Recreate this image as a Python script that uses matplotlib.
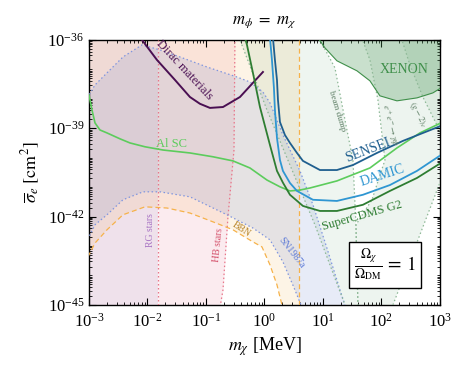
import numpy as np
import matplotlib.pyplot as plt
from matplotlib.ticker import LogLocator, FixedLocator, NullFormatter

plt.rcParams['font.family'] = 'serif'
plt.rcParams['font.serif'] = ['Liberation Serif', 'DejaVu Serif']
plt.rcParams['mathtext.fontset'] = 'stix'

# all values as log10(m_chi / MeV) and log10(sigma_e / cm^2)
dirac_m = [-2.2, -2.094, -1.838, -1.530, -1.274, -1.103, -0.932, -0.709, -0.419, -0.026]
dirac_s = [-35.72, -36.0, -36.68, -37.36, -37.94, -38.17, -38.31, -38.28, -37.94, -37.09]

alsc_m = [-3.0, -2.949, -2.897, -2.812, -2.692, -2.470, -2.299, -2.043, -1.735, -1.274, -0.880,
          -0.538, -0.248, 0.043, 0.265, 0.436, 0.607, 0.778, 1.239, 1.803, 2.265, 2.658, 3.017]
alsc_s = [-37.87, -38.38, -38.82, -39.06, -39.16, -39.36, -39.50, -39.63, -39.74, -39.84, -39.97,
          -40.11, -40.35, -40.76, -40.99, -41.13, -41.10, -41.03, -40.79, -40.35, -39.67, -39.16, -38.82]

sensei_m = [0.145, 0.179, 0.214, 0.231, 0.265, 0.350, 0.436, 0.556, 0.658, 0.949, 1.239, 1.513, 1.923, 2.368, 3.017]
sensei_s = [-35.93, -36.68, -37.36, -38.04, -38.79, -39.23, -39.50, -39.84, -40.11, -40.42, -40.42, -40.25, -39.84, -39.43, -38.92]

damic_m = [0.094, 0.128, 0.162, 0.179, 0.214, 0.265, 0.316, 0.436, 0.556, 0.829, 1.239, 1.684, 2.145, 2.607, 3.017]
damic_s = [-35.93, -36.68, -37.63, -38.38, -39.33, -40.08, -40.45, -40.86, -41.13, -41.43, -41.47, -41.26, -40.93, -40.45, -39.91]

cdms_m = [-0.333, -0.299, -0.197, -0.077, 0.094, 0.214, 0.316, 0.436, 0.658, 0.949, 1.239, 1.684, 2.145, 2.607, 3.017]
cdms_s = [-35.93, -36.17, -37.12, -38.28, -39.57, -40.45, -40.85, -41.26, -41.64, -41.81, -41.81, -41.60, -41.13, -40.69, -40.18]

xenon_m = [0.88, 0.915, 1.034, 1.239, 1.581, 1.803, 1.974, 2.265, 2.607, 2.880, 3.017, 3.1]
xenon_s = [-35.8, -35.93, -36.27, -36.71, -37.05, -37.39, -37.90, -38.07, -37.97, -37.80, -37.63, -37.55]

rg_edge = -1.82
hb_m = [-0.504, -0.521, -0.624, -0.709, -0.761]
hb_s = [-35.8, -39.74, -42.01, -44.49, -45.1]

bbn_edge = 0.59
bbn_m = [-3.1, -3.0, -2.897, -2.692, -2.419, -2.043, -1.667, -1.274, -0.880, -0.538, -0.197, -0.043, 0.094, 0.214, 0.299]
bbn_s = [-43.6, -43.30, -42.90, -42.45, -41.94, -41.67, -41.71, -41.88, -42.18, -42.45, -42.86, -43.03, -43.64, -44.32, -45.0]

sn_up_m = [-3.1, -3.0, -2.897, -2.692, -2.419, -2.094, -1.786, -1.444, -0.983, -0.470, -0.248, -0.026,
           0.094, 0.316, 0.607, 0.829, 1.068, 1.291, 1.376]
sn_up_s = [-38.2, -37.87, -37.53, -37.12, -36.58, -36.17, -36.34, -36.58, -36.92, -37.26, -37.43, -37.77,
           -38.14, -39.23, -40.45, -41.60, -43.07, -44.49, -45.0]
sn_lo_m = [-3.1, -3.0, -2.897, -2.692, -2.419, -2.077, -1.786, -1.274, -0.641, -0.197, 0.094, 0.316, 0.521, 0.624]
sn_lo_s = [-43.0, -42.69, -42.28, -41.94, -41.43, -41.16, -41.16, -41.33, -41.94, -42.39, -42.79, -43.54, -44.49, -45.0]

bd_up_m = [-0.48, -0.419, 0.043, 0.436, 0.863, 1.376]
bd_up_s = [-35.8, -36.0, -38.38, -40.25, -42.28, -45.0]
bd_lo_m = [0.92, 0.949, 1.205, 1.410, 1.513, 1.564, 1.598]
bd_lo_s = [-35.8, -36.0, -36.95, -39.06, -40.08, -42.28, -45.0]

ee_left_m = [1.64, 1.803, 1.940, 2.060, 1.838, 1.564, 1.598]
ee_left_s = [-35.8, -36.68, -38.04, -40.08, -41.43, -42.28, -45.0]
ee_right_m = [2.197, 3.017, 3.1]
ee_right_s = [-45.0, -40.76, -40.5]

g2_m = [2.33, 2.350, 2.487, 2.709, 2.966, 3.1]
g2_s = [-35.8, -36.0, -36.85, -37.94, -38.96, -39.4]

fig = plt.figure(figsize=(4.54, 3.66), dpi=100)
ax = fig.add_axes([0.196, 0.167, 0.773, 0.724])
ax.set_xscale('log')
ax.set_yscale('log')

def p(a):
    return 10 ** np.asarray(a, dtype=float)

top, bot, left, right = -35.8, -45.1, -3.1, 3.1
dot = (0, (1.2, 2.0))
dash = (0, (4, 2.5))

# stellar bounds
ax.axvspan(p(left), p(rg_edge), color='#b06a9e', alpha=0.2, lw=0, zorder=1)
ax.fill_betweenx(p(hb_s), p(rg_edge), p(hb_m), color='#e87a96', alpha=0.15, lw=0, zorder=1)
ax.axvline(p(rg_edge), color='#e8768a', ls=dot, lw=0.9, zorder=3)
ax.plot(p(hb_m), p(hb_s), color='#e8768a', ls=dot, lw=0.9, zorder=3)

# BBN
bx = bbn_m + [bbn_edge, bbn_edge, left]
by = bbn_s + [bot, top, top]
ax.fill(p(bx), p(by), color='#f7b85a', alpha=0.15, lw=0, zorder=1)
ax.plot(p(bbn_m), p(bbn_s), color='#f6b24a', ls=dash, lw=0.9, zorder=3)
ax.axvline(p(bbn_edge), color='#f6b24a', ls=dash, lw=0.9, zorder=3)

# SN1987a
sx = sn_up_m + sn_lo_m[::-1]
sy = sn_up_s + sn_lo_s[::-1]
ax.fill(p(sx), p(sy), color='#7d93d6', alpha=0.18, lw=0, zorder=1)
ax.plot(p(sn_up_m), p(sn_up_s), color='#7f95df', ls=dot, lw=0.9, zorder=3)
ax.plot(p(sn_lo_m), p(sn_lo_s), color='#7f95df', ls=dot, lw=0.9, zorder=3)

# beam dump, e+e- -> gamma phi, (g-2)_e
gcol = '#5f9e6e'
gline = '#8db896'
ax.fill(p(bd_up_m + bd_lo_m[::-1]), p(bd_up_s + bd_lo_s[::-1]), color=gcol, alpha=0.1, lw=0, zorder=1)
ax.fill(p(ee_left_m + ee_right_m + [right]), p(ee_left_s + ee_right_s + [top]), color=gcol, alpha=0.11, lw=0, zorder=1)
ax.fill(p(g2_m + [right]), p(g2_s + [top]), color=gcol, alpha=0.1, lw=0, zorder=1)
for xm, ys in [(bd_up_m, bd_up_s), (bd_lo_m, bd_lo_s), (ee_left_m, ee_left_s),
               (ee_right_m, ee_right_s), (g2_m, g2_s)]:
    ax.plot(p(xm), p(ys), color=gline, ls=dot, lw=0.9, zorder=3)

# XENON
ax.fill(p(xenon_m + [right]), p(xenon_s + [top]), color='#4f9a5a', alpha=0.3, lw=0, zorder=2)
ax.plot(p(xenon_m), p(xenon_s), color='#3f8f4a', lw=0.8, zorder=3)

# experimental reaches
ax.plot(p(dirac_m), p(dirac_s), color='#4a0f52', lw=1.4, zorder=5)
ax.plot(p(alsc_m), p(alsc_s), color='#5ccc5c', lw=1.2, zorder=5)
ax.plot(p(cdms_m), p(cdms_s), color='#2e7d32', lw=1.3, zorder=5)
ax.plot(p(damic_m), p(damic_s), color='#2f96d2', lw=1.3, zorder=5)
ax.plot(p(sensei_m), p(sensei_s), color='#1f5f8f', lw=1.3, zorder=5)

labels = [
    ('Dirac materials', -1.36, -37.03, -47, '#4a0f52', 9),
    ('Al SC', -1.581, -39.53, 0, '#5ccc5c', 9),
    ('XENON', 2.385, -37.02, 0, '#3f8f4a', 10),
    ('SENSEI', 1.769, -39.74, 21, '#1f5f8f', 10),
    ('DAMIC', 2.009, -40.62, 18, '#2f96d2', 10),
    ('SuperCDMS G2', 1.667, -41.98, 16, '#2e7d32', 9),
    ('RG stars', -1.94, -42.45, 90, '#a874c4', 7),
    ('HB stars', -0.795, -42.96, 84, '#d4506a', 7),
    ('BBN', -0.402, -42.45, -33, '#b8862a', 7),
    ('SN1987a', 0.47, -43.24, -52, '#5a78d6', 7),
    ('beam dump', 1.239, -38.41, -73, '#5f7f66', 6.5),
    (r'$e^+e^-\!\to\gamma\phi$', 2.145, -38.89, -76, '#5f7f66', 6.5),
    (r'$(g-2)_e$', 2.624, -38.55, -62, '#5f7f66', 6.5),
]
for s, x, y, rot, c, fs in labels:
    ax.text(p(x), p(y), s, rotation=rot, rotation_mode='anchor', ha='center', va='center',
            color=c, fontsize=fs, zorder=6)

ax.text(p(2.06), p(-43.64), r'$\frac{\Omega_\chi}{\Omega_{\rm DM}}\,=\,1$', fontsize=14,
        ha='center', va='center', zorder=7,
        bbox=dict(boxstyle='square,pad=0.25', fc='white', ec='black', lw=1.0))

ax.set_xlim(1e-3, 1e3)
ax.set_ylim(1e-45, 1e-36)
ax.xaxis.set_major_locator(LogLocator(base=10, numticks=20))
ax.xaxis.set_minor_locator(LogLocator(base=10, subs=np.arange(2, 10), numticks=20))
ax.xaxis.set_minor_formatter(NullFormatter())
ax.yaxis.set_major_locator(FixedLocator([1e-45, 1e-42, 1e-39, 1e-36]))
ax.yaxis.set_minor_locator(LogLocator(base=10, subs=np.arange(1, 10), numticks=100))
ax.yaxis.set_minor_formatter(NullFormatter())
ax.tick_params(which='both', direction='in', top=True, right=True, labelsize=12)
ax.tick_params(axis='x', which='major', pad=6)
ax.tick_params(which='major', length=5, width=0.8)
ax.tick_params(which='minor', length=2.5, width=0.6)
for sp in ax.spines.values():
    sp.set_linewidth(1.0)

ax.set_xlabel(r'$m_\chi$ [MeV]', fontsize=13, labelpad=3)
ax.set_ylabel(r'$\overline{\sigma}_e\ [\mathrm{cm}^2]$', fontsize=13)
ax.set_title(r'$m_\phi\ =\ m_\chi$', fontsize=12, pad=12)

fig.savefig('out.png', dpi=100)
